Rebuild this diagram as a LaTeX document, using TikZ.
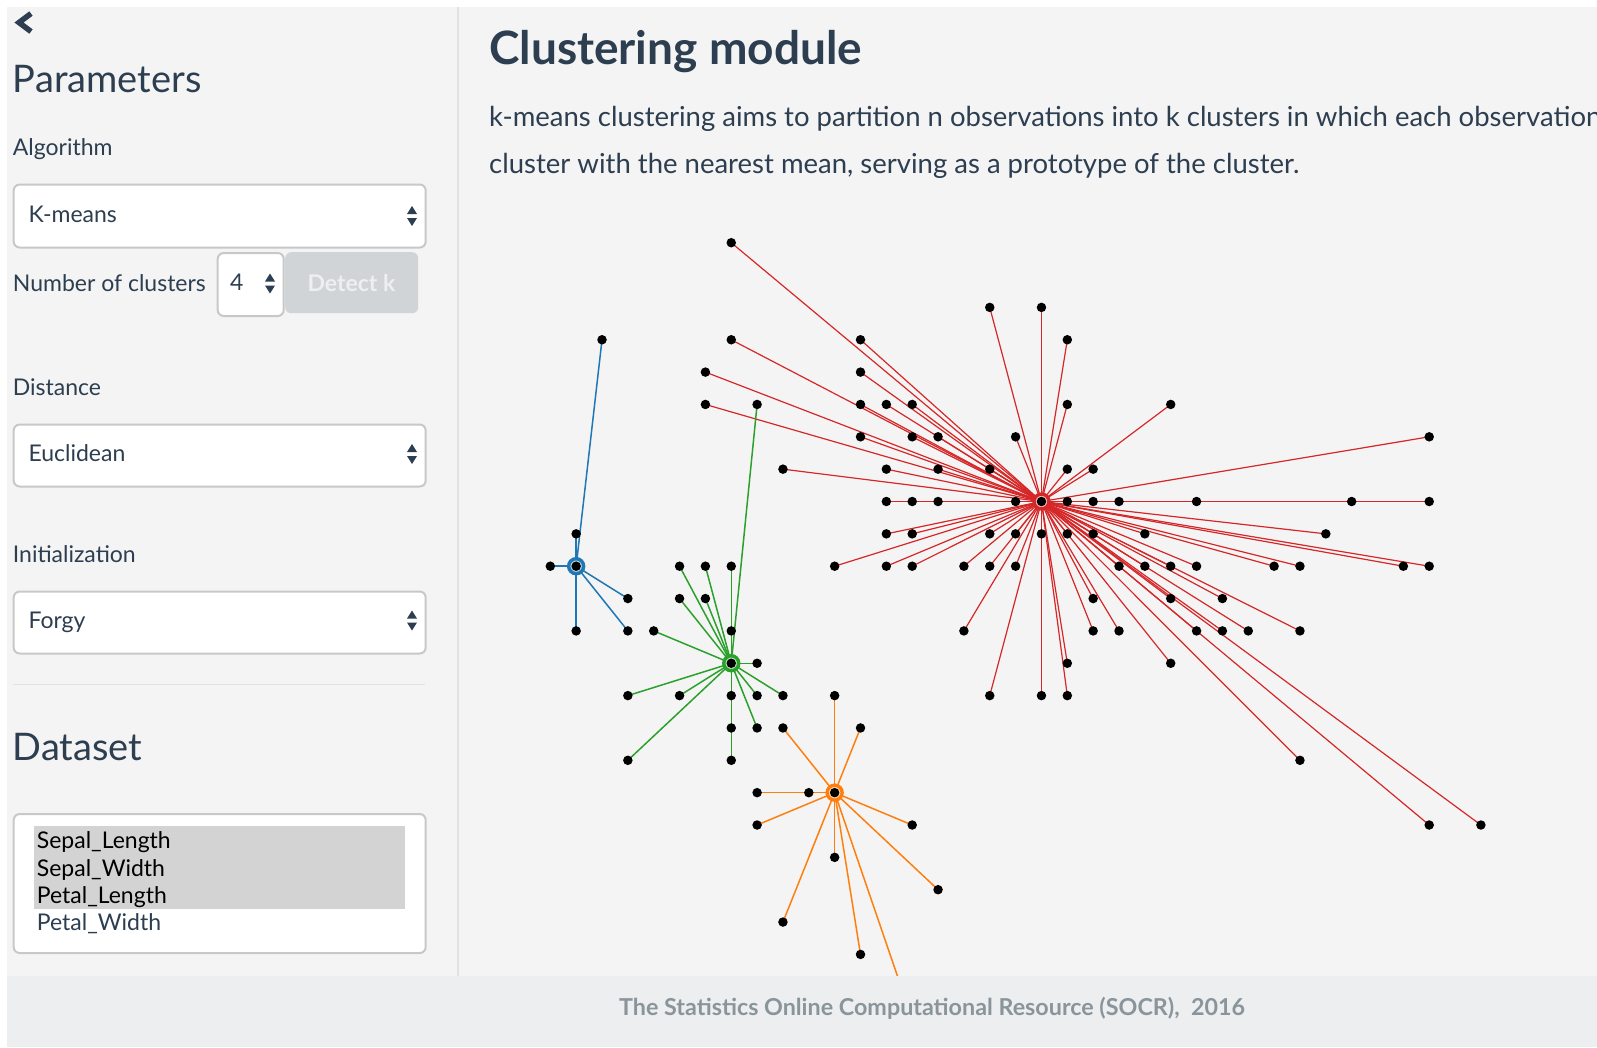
\documentclass[tikz,border=0pt]{standalone}
\usepackage{fontspec}
\setmainfont{Lato}
\definecolor{bg}{HTML}{F4F4F4}
\definecolor{ink}{HTML}{2C3E50}
\definecolor{foot}{HTML}{ECEEF0}
\definecolor{footink}{HTML}{8A959B}
\definecolor{boxline}{HTML}{C8C8C8}
\definecolor{sepline}{HTML}{E2E2E2}
\definecolor{btn}{HTML}{D0D4D7}
\definecolor{btntext}{HTML}{EDEFF0}
\definecolor{selgray}{HTML}{D3D3D3}
\definecolor{clR}{HTML}{D62728}
\definecolor{clB}{HTML}{1F77B4}
\definecolor{clG}{HTML}{2CA02C}
\definecolor{clO}{HTML}{FF7F0E}
\newcommand{\spinarrows}[2]{%
  \fill[ink] ({#1-5},{#2-2}) -- ({#1+5},{#2-2}) -- ({#1},{#2-10}) -- cycle;
  \fill[ink] ({#1-5},{#2+2}) -- ({#1+5},{#2+2}) -- ({#1},{#2+10}) -- cycle;}
\def\redpts{7/0,7/3,6/4,6/5,9/7,17/2,19/2,12/3,20/3,12/4,12/5,13/5,14/5,20/5,24/5,12/6,14/6,15/6,18/6,34/6,13/7,15/7,17/7,20/7,21/7,13/8,14/8,15/8,18/8,20/8,21/8,22/8,25/8,31/8,34/8,13/9,14/9,17/9,18/9,19/9,20/9,21/9,23/9,30/9,11/10,13/10,14/10,16/10,17/10,18/10,22/10,23/10,24/10,25/10,28/10,29/10,33/10,34/10,21/11,24/11,26/11,16/12,21/12,22/12,25/12,26/12,27/12,29/12,20/13,24/13,17/14,19/14,20/14,29/16,34/18,36/18}
\def\bluepts{2/3,1/9,0/10,3/11,1/12,3/12}
\def\greenpts{8/5,5/10,6/10,7/10,5/11,6/11,4/12,7/12,8/13,3/14,5/14,7/14,8/14,9/14,7/15,8/15,3/16,7/16}
\def\orangepts{11/14,12/15,9/15,8/17,10/17,8/18,14/18,11/19,15/20,9/21,12/22}
\tikzset{
  lab/.style={anchor=base west, inner sep=0pt, text=ink, font=\fontsize{23}{28}\selectfont},
  head/.style={anchor=base west, inner sep=0pt, text=ink, font=\fontsize{38}{45}\selectfont},
  para/.style={anchor=base west, inner sep=0pt, text=ink, font=\fontsize{27.5}{33}\selectfont},
  selbox/.style={draw=boxline, line width=2pt, fill=white, rounded corners=6pt, anchor=north west, inner sep=0pt},
  pdot/.style={circle, fill=black, inner sep=0pt, minimum size=9.5pt},
  ringmark/.style={circle, draw=#1, line width=3.4pt, fill=#1!30!white, inner sep=0pt, minimum size=15pt},
  edgeline/.style={draw=#1, line width=1.5pt},
}
\begin{document}
\begin{tikzpicture}[x=1pt,y=-1pt]
\useasboundingbox (0,0) rectangle (1597,1047);
\fill[white] (0,0) rectangle (1597,1047);
\fill[bg] (7,7) rectangle (1597,1047);
% sidebar separator
\coordinate (sepTop) at (458,7);
\coordinate (sepBot) at (458,976);
\draw[sepline, line width=2pt] (sepTop) -- (sepBot);

% back chevron
\draw[ink, line width=5.5pt, line join=miter] (31,13.5) -- (19,22.5) -- (31,31.5);

\node[head] (params) at (12.7,92.5) {Parameters};
\node[lab] (algo) at (12.7,155.5) {Algorithm};
\node[selbox, minimum width=412pt, minimum height=63pt] (sel1) at (12.7,183.5) {};
\node[lab] (kmeans) at (28.3,222.5) {K-means};
\spinarrows{412}{216}

\node[lab] (ncl) at (12.7,291.5) {Number of clusters};
\node[fill=btn, rounded corners=6pt, anchor=north west, minimum width=133pt, minimum height=61pt, inner sep=0pt] (detect) at (285,252) {};
\node[anchor=base, inner sep=0pt, text=btntext, font=\fontsize{23}{28}\bfseries\selectfont] (detecttxt) at (351.5,291) {Detect k};
\node[selbox, minimum width=66pt, minimum height=63pt] (numbox) at (216.7,252) {};
\node[lab] (four) at (230,290) {4};
\spinarrows{270}{283.5}

\node[lab] (dist) at (12.7,395) {Distance};
\node[selbox, minimum width=412pt, minimum height=62pt] (sel2) at (12.7,423.5) {};
\node[lab] (eucl) at (28.3,461.5) {Euclidean};
\spinarrows{412}{454}

\node[lab] (init) at (12.7,562.5) {Initialization};
\node[selbox, minimum width=412pt, minimum height=62pt] (sel3) at (12.7,590.5) {};
\node[lab] (forgy) at (28.3,628.5) {Forgy};
\spinarrows{412}{620.5}

\coordinate (hrL) at (12.7,684.5);
\coordinate (hrR) at (425,684.5);
\draw[sepline, line width=1.2pt] (hrL) -- (hrR);

\node[head] (dataset) at (12.7,760) {Dataset};
\node[selbox, minimum width=412pt, minimum height=139pt] (msel) at (12.7,813) {};
\node[fill=selgray, anchor=north west, minimum width=371pt, minimum height=82.5pt, inner sep=0pt] (hilite) at (33.3,826) {};
\node[lab, text=black] (i1) at (36.7,848.3) {Sepal\_Length};
\node[lab, text=black] (i2) at (36.7,876) {Sepal\_Width};
\node[lab, text=black] (i3) at (36.7,903.3) {Petal\_Length};
\node[lab] (i4) at (36.7,930.7) {Petal\_Width};

% main area text
\begin{scope}
\clip (460,0) rectangle (1597,1047);
\node[anchor=base west, inner sep=0pt, text=ink, font=\fontsize{46}{54}\bfseries\selectfont] (title) at (489,64) {Clustering module};
\node[para] (p1) at (489,126) {k-means clustering aims to partition n observations into k clusters in which each observation};
\node[para] (p2) at (489,173) {cluster with the nearest mean, serving as a prototype of the cluster.};
\end{scope}

% scatter plot
\begin{scope}[shift={(550.3pt,-242.7pt)}, x=25.85pt, y=-32.35pt]
  \coordinate (Rc) at (19,8);
  \coordinate (Bc) at (1,10);
  \coordinate (Gc) at (7,13);
  \coordinate (Oc) at (11,17);
  \coordinate (Oend) at (14,24);
  \foreach \i/\j in \redpts {\coordinate (R-\i-\j) at (\i,\j); \draw[edgeline=clR, line width=1.2pt] (Rc) -- (R-\i-\j);}
  \foreach \i/\j in \bluepts {\coordinate (B-\i-\j) at (\i,\j); \draw[edgeline=clB] (Bc) -- (B-\i-\j);}
  \foreach \i/\j in \greenpts {\coordinate (G-\i-\j) at (\i,\j); \draw[edgeline=clG] (Gc) -- (G-\i-\j);}
  \foreach \i/\j in \orangepts {\coordinate (O-\i-\j) at (\i,\j); \draw[edgeline=clO] (Oc) -- (O-\i-\j);}
  \draw[edgeline=clO] (Oc) -- (Oend);
  \foreach \i/\j in \redpts {\node[pdot] (dR-\i-\j) at (R-\i-\j) {};}
  \foreach \i/\j in \bluepts {\node[pdot] (dB-\i-\j) at (B-\i-\j) {};}
  \foreach \i/\j in \greenpts {\node[pdot] (dG-\i-\j) at (G-\i-\j) {};}
  \foreach \i/\j in \orangepts {\node[pdot] (dO-\i-\j) at (O-\i-\j) {};}
  \node[ringmark=clR] (RcRing) at (Rc) {};
  \node[ringmark=clB] (BcRing) at (Bc) {};
  \node[ringmark=clG] (GcRing) at (Gc) {};
  \node[ringmark=clO] (OcRing) at (Oc) {};
  \node[pdot] (RcDot) at (Rc) {};
  \node[pdot] (BcDot) at (Bc) {};
  \node[pdot] (GcDot) at (Gc) {};
  \node[pdot] (OcDot) at (Oc) {};
\end{scope}

% footer
\fill[foot] (7,976) rectangle (1597,1047);
\node[anchor=base, inner sep=0pt, text=footink, font=\fontsize{23.3}{28}\bfseries\selectfont] (footer) at (932,1015) {The Statistics Online Computational Resource (SOCR),\ \ 2016};
\end{tikzpicture}
\end{document}
